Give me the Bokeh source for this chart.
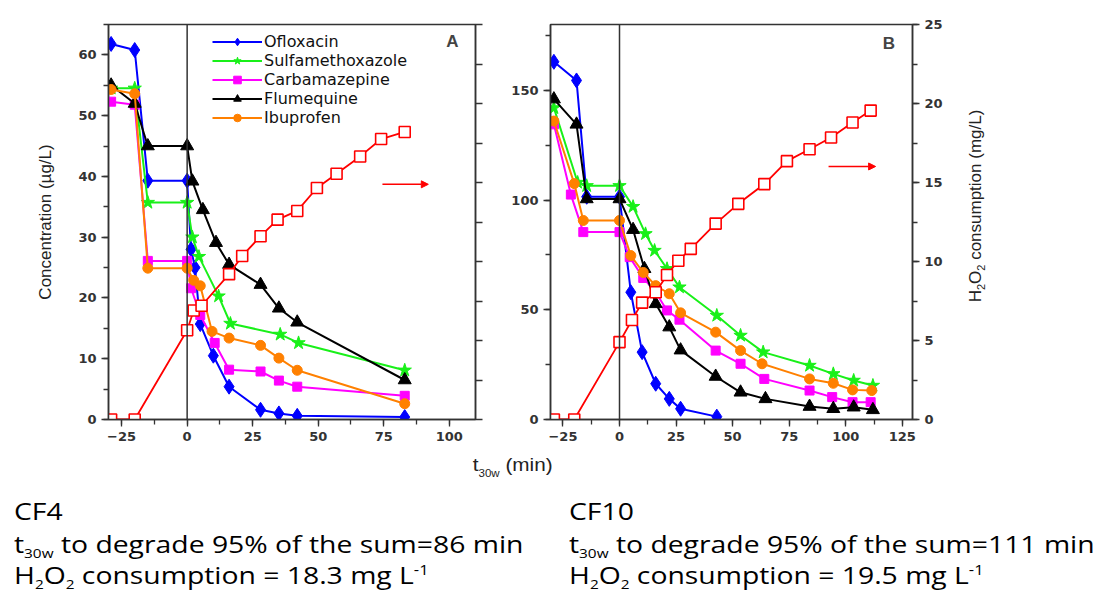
from bokeh.plotting import figure
from bokeh.models import (Range1d, LinearAxis, SingleIntervalTicker, FixedTicker, Span, Arrow,
                          NormalHead, Label, Legend, LegendItem, Div)
from bokeh.layouts import row, column
from bokeh.embed import file_html
from bokeh.resources import INLINE

# ---------------- data: panel A (CF4) ----------------
oflox_A_t = [-29, -20, -15, 0, 1.5, 3, 5, 10, 16, 28, 35, 42, 83]
oflox_A_c = [61.8, 60.8, 39.3, 39.3, 28, 25, 15.7, 10.5, 5.4, 1.6, 1.0, 0.6, 0.4]
sulfa_A_t = [-29, -20, -15, 0, 2, 4.5, 12, 16.5, 35.5, 42.5, 83]
sulfa_A_c = [54.5, 54.5, 35.7, 35.7, 30, 26.8, 20.3, 15.8, 14, 12.6, 8.1]
carba_A_t = [-29, -20, -15, 0, 1.5, 5, 10.5, 16, 28, 35, 42, 83]
carba_A_c = [52.3, 51.8, 26.1, 26.1, 21.6, 17.2, 12.6, 8.2, 7.9, 6.4, 5.4, 3.9]
flume_A_t = [-29, -20, -15, 0, 2, 6, 11, 16, 28, 35, 42, 83]
flume_A_c = [55, 52, 45, 45, 39.2, 34.5, 29.1, 25.5, 22.2, 18.3, 16, 6.5]
ibupr_A_t = [-29, -20, -15, 0, 2.5, 5, 9.5, 16, 28, 35, 42, 83]
ibupr_A_c = [54.3, 53.6, 24.9, 24.9, 22.9, 22, 14.5, 13.4, 12.2, 10.1, 8.1, 2.6]
h2o2_A_t = [-29, -20, 0, 2.5, 5.5, 16, 21, 28, 34.5, 42, 49.5, 57, 66, 74, 83]
h2o2_A_v = [0, 0, 5.65, 6.9, 7.2, 9.2, 10.35, 11.6, 12.65, 13.2, 14.65, 15.55, 16.65, 17.75, 18.2]

# ---------------- data: panel B (CF10) ----------------
oflox_B_t = [-29, -19, -14.5, 0, 5, 10, 16, 22, 27, 43]
oflox_B_c = [163, 154.5, 101.5, 101.5, 58, 30.7, 16.3, 9.4, 4.9, 1.3]
sulfa_B_t = [-29, -18.5, -14.5, 0, 6, 11.5, 15.5, 21, 26.5, 43, 53.5, 63.5, 84, 94.5, 103.5, 112]
sulfa_B_c = [142, 108, 106.5, 106.5, 97, 84.6, 77, 68.7, 60.3, 47.4, 38.3, 30.7, 24.6, 20.8, 17.8, 15.5]
carba_B_t = [-29, -21.5, -16, 0, 4.5, 10.5, 16, 21, 26.5, 42.5, 53.5, 64, 84, 94, 103, 111]
carba_B_c = [134.5, 102.5, 85.4, 85.4, 74, 64.5, 58, 49.7, 45.5, 31.4, 25.4, 18.5, 13.2, 10.2, 7.9, 7.9]
flume_B_t = [-29, -19, -14.5, 0, 6, 11, 16, 22, 27, 42.5, 53.5, 64.5, 84, 94.5, 103.5, 112]
flume_B_c = [146, 134.5, 100.5, 100.5, 86.5, 68.7, 52.7, 42.1, 31.6, 19.6, 12.4, 9.4, 5.9, 4.9, 5.6, 4.4]
ibupr_B_t = [-29, -20, -16, 0, 5, 10.5, 16, 22, 27, 42.5, 53.5, 63, 84, 94.5, 103, 111.5]
ibupr_B_c = [136, 107.5, 90.7, 90.7, 74.7, 67, 61, 57.3, 48.6, 39.8, 31.4, 25.4, 18.5, 16.5, 13.5, 13.2]
h2o2_B_t = [-29, -20, 0, 5.5, 10, 16, 21, 26, 31.5, 42.5, 52.5, 64, 74, 84, 93.5, 103, 111]
h2o2_B_v = [0, 0, 4.9, 6.3, 7.4, 8.05, 9.15, 10.05, 10.8, 12.4, 13.65, 14.9, 16.35, 17.1, 17.85, 18.8, 19.55]

series_names = ["Ofloxacin", "Sulfamethoxazole", "Carbamazepine", "Flumequine", "Ibuprofen"]
colors = ["#0000ff", "#19f019", "#ff00ff", "#000000", "#ff8000"]
markers = ["diamond", "star", "square", "triangle", "circle"]
msizes = [15, 14, 9, 13, 10]

h2o2_ticks = [0, 2.5, 5, 7.5, 10, 12.5, 15, 17.5, 20, 22.5, 25]

summary_A = ["CF4", "86", "18.3"]
summary_B = ["CF10", "111", "19.5"]

AX = "#333333"
TICK_FONT = "DejaVu Sans"


def style_axis(ax, interval=None):
    if interval is not None:
        ax.ticker = SingleIntervalTicker(interval=interval, num_minor_ticks=2)
    ax.axis_line_color = AX
    ax.axis_line_width = 1.5
    ax.major_tick_out = 7
    ax.major_tick_in = 0
    ax.minor_tick_out = 5
    ax.minor_tick_in = 0
    ax.major_tick_line_color = AX
    ax.minor_tick_line_color = AX
    ax.major_tick_line_width = 1.3
    ax.minor_tick_line_width = 1.3
    ax.major_label_text_font = TICK_FONT
    ax.major_label_text_font_style = "bold"
    ax.major_label_text_color = "#333333"
    ax.major_label_text_font_size = "13px"
    ax.major_label_standoff = 5
    ax.axis_label_text_font = "Liberation Sans"
    ax.axis_label_text_font_style = "normal"
    ax.axis_label_text_font_size = "17px"
    ax.axis_label_text_color = "#222222"


def make_panel(xr, yr, x_int, y_int, border_left, border_right, frame_w):
    p = figure(frame_width=frame_w, frame_height=395,
               x_range=Range1d(*xr), y_range=Range1d(*yr),
               output_backend="svg", toolbar_location=None,
               min_border_left=border_left, min_border_right=border_right,
               min_border_top=24, min_border_bottom=33)
    p.extra_y_ranges = {"h2o2": Range1d(0, 25)}
    p.xgrid.visible = False
    p.ygrid.visible = False
    p.outline_line_color = AX
    p.outline_line_width = 1.5
    p.background_fill_color = "white"
    p.border_fill_color = "white"
    style_axis(p.xaxis[0], x_int)
    style_axis(p.yaxis[0], y_int)
    p.add_layout(Span(location=0, dimension="height", line_color=AX, line_width=1.5))
    return p


def add_series(p, ts, cs, h_t, h_v):
    items = []
    for name, t, c, col, mk, ms in zip(series_names, ts, cs, colors, markers, msizes):
        ln = p.line(t, c, line_color=col, line_width=2)
        sc = p.scatter(t, c, marker=mk, size=ms, fill_color=col, line_color=col)
        items.append(LegendItem(label=name, renderers=[ln, sc]))
    p.line(h_t, h_v, line_color="#ff0000", line_width=1.8, y_range_name="h2o2")
    p.scatter(h_t, h_v, marker="square", size=11, fill_color="white",
              line_color="#ff0000", line_width=1.6, y_range_name="h2o2")
    return items


# ---------------- panel A ----------------
pA = make_panel((-30, 110), (0, 65), 25, 10, 108, 10, 367)
pA.yaxis[0].axis_label = "Concentration (µg/L)"
pA.yaxis[0].axis_label_standoff = 20
axA_r = LinearAxis(y_range_name="h2o2", ticker=FixedTicker(ticks=[], minor_ticks=h2o2_ticks))
style_axis(axA_r)
axA_r.minor_tick_out = 7
pA.add_layout(axA_r, "right")

itemsA = add_series(pA,
                    [oflox_A_t, sulfa_A_t, carba_A_t, flume_A_t, ibupr_A_t],
                    [oflox_A_c, sulfa_A_c, carba_A_c, flume_A_c, ibupr_A_c],
                    h2o2_A_t, h2o2_A_v)
legend = Legend(items=itemsA, location=(104, 395 - 8 - 95),
                label_text_font="DejaVu Sans", label_text_font_size="16px",
                label_text_color="#111111",
                glyph_width=50, glyph_height=19, label_height=19, spacing=0,
                padding=0, margin=0, label_standoff=2,
                border_line_alpha=0, background_fill_alpha=0)
pA.add_layout(legend)
pA.add_layout(Arrow(x_start=74.5, y_start=38.7, x_end=92, y_end=38.7,
                    line_color="#ff0000", line_width=1.5,
                    end=NormalHead(size=7, fill_color="#ff0000", line_color="#ff0000")))
pA.add_layout(Label(x=101.2, y=62.2, text="A", text_align="center",
                    text_baseline="alphabetic", text_font="Liberation Sans",
                    text_font_style="bold", text_font_size="17px"))

# ---------------- panel B ----------------
pB = make_panel((-30.5, 129.5), (0, 180), 25, 50, 65, 40, 362)
axB_r = LinearAxis(y_range_name="h2o2")
style_axis(axB_r, 5)
pB.add_layout(axB_r, "right")

add_series(pB,
           [oflox_B_t, sulfa_B_t, carba_B_t, flume_B_t, ibupr_B_t],
           [oflox_B_c, sulfa_B_c, carba_B_c, flume_B_c, ibupr_B_c],
           h2o2_B_t, h2o2_B_v)
pB.add_layout(Arrow(x_start=92.4, y_start=115.3, x_end=113.2, y_end=115.3,
                    line_color="#ff0000", line_width=1.5,
                    end=NormalHead(size=7, fill_color="#ff0000", line_color="#ff0000")))
pB.add_layout(Label(x=119.1, y=171.4, text="B", text_align="center",
                    text_baseline="alphabetic", text_font="Liberation Sans",
                    text_font_style="bold", text_font_size="17px"))

# right-hand title, rotated to read bottom-to-top
SUBR = "font-size:11px;vertical-align:-4px;line-height:1"
right_title = Div(
    text=('<div style="position:relative;width:60px;height:440px">'
          '<div style="position:absolute;left:19px;top:201px;transform:translate(-50%,-50%) rotate(-90deg);'
          'white-space:nowrap;font-family:\'Liberation Sans\',sans-serif;font-size:17px;color:#222">'
          f'H<sub style="{SUBR}">2</sub>O<sub style="{SUBR}">2</sub> consumption (mg/L)</div></div>'),
    width=60, height=440)

# ---------------- text block ----------------
SUB = "font-size:13px;vertical-align:-5px;line-height:1"
SUP = "font-size:14px;vertical-align:9px;line-height:1"


def block(vals, left):
    cf, tmin, cons = vals
    line_style = "position:absolute;left:0;white-space:nowrap;line-height:33px;height:33px"
    return (f'<div style="position:absolute;left:{left}px;top:37px;width:520px;height:97px;'
            f'transform:scaleX(1.18);transform-origin:0 0">'
            f'<div style="{line_style};top:0">{cf}</div>'
            f'<div style="{line_style};top:33px">t<sub style="{SUB}">30w</sub> to degrade 95% of the sum={tmin} min</div>'
            f'<div style="{line_style};top:64px">H<sub style="{SUB}">2</sub>O<sub style="{SUB}">2</sub> '
            f'consumption = {cons} mg L<sup style="{SUP}">-1</sup></div></div>')


html = (
    '<div style="position:relative;width:1090px;height:130px;font-family:\'Open Sans\',sans-serif;'
    'font-size:24px;color:#000">'
    '<div style="position:absolute;left:0;top:-2px;width:1016px;text-align:center;'
    'font-family:\'Liberation Sans\',sans-serif;font-size:18px;line-height:20px;color:#222">'
    '<span style="display:inline-block;transform:scaleX(1.15)">'
    't<sub style="font-size:10px;vertical-align:-6px;line-height:1">30w</sub> (min)</span></div>'
    + block(summary_A, 9) + block(summary_B, 564) +
    '</div>'
)
div = Div(text=html, width=1090, height=130)

layout = column(row(pA, pB, right_title), div)
open("out.html", "w").write(file_html(layout, INLINE))
